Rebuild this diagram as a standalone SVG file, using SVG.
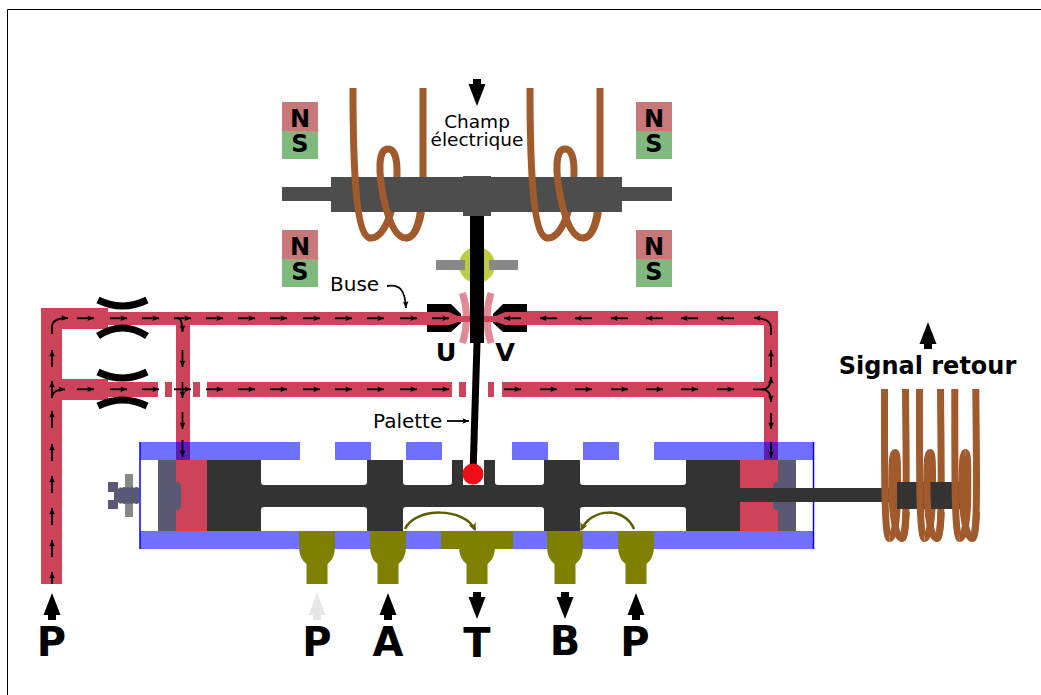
<svg xmlns="http://www.w3.org/2000/svg" width="1041" height="695" viewBox="0 0 1041 695">
<style>
text{font-family:"DejaVu Sans",sans-serif;fill:#000}
.b{font-weight:bold;text-anchor:middle}
.l{font-size:20px}
.m{font-size:18.5px;text-anchor:middle}
.mg{font-size:24px}
.big{font-size:40px}
.coil{fill:none;stroke:#a05a2c;stroke-width:7}
.pipe{fill:#cd445a}
.blue{fill:#7070ff}
.purple{fill:#5d1db3}
.olive{fill:#808000}
.dark{fill:#333}
.bar{fill:#4d4d4d}
.cap{fill:#595975}
.grey{fill:#888}
.ns{fill:#c87878}
.ss{fill:#80b97e}
.arc{fill:none;stroke:#000;stroke-width:7}
.pink{fill:none;stroke:#e08a98;stroke-width:7}
.f path{fill:none;stroke:#000;stroke-width:1.8;marker-end:url(#a)}
.o{fill:none;stroke:#5c5c00;stroke-width:2.5;marker-end:url(#o)}
</style>
<defs>
<marker id="a" markerUnits="userSpaceOnUse" markerWidth="8" markerHeight="7" refX="7" refY="3.5" orient="auto"><polygon points="0.5,0.7 7,3.5 0.5,6.3 1.5,3.5" fill="#000"/></marker>
<marker id="o" markerUnits="userSpaceOnUse" markerWidth="9" markerHeight="9" refX="7" refY="4" orient="auto"><polygon points="0,0 8,4 0,8 2,4" fill="#5c5c00"/></marker>
<polygon id="up" points="0,0 8.500,22 4,22 4,27 -4,27 -4,22 -8.500,22"/>
<polygon id="down" points="0,0 8.500,-22 4,-22 4,-27 -4,-27 -4,-22 -8.500,-22"/>
<path id="cb" class="coil" d="M371 238C383 238 392 216 396 190C398 170 398 149 388 149M406 238C414 238 420 226 423 190V88"/>
<path id="cf" class="coil" d="M353 88C353 170 356 238 371 238M388 149C378 149 378 172 384 200C389 222 396 238 406 238C414 238 419 226 421.500 212"/>
<path id="rb" class="coil" d="M889.500 538.500C894 538.500 897.500 520 897.500 490C897.500 470 898 452.500 895 452.500M902 538.500C908 538.500 906 460 905.500 389"/>
<path id="rf" class="coil" d="M884.500 389C884.500 470 884 538.500 889.500 538.500M895 452.500C891.500 452.500 892 470 892 490C892 515 896 538.500 902 538.500C904 538.500 905.500 530 906.300 512"/>
<path id="port" class="olive" d="M-18 0H18V16Q18 27 10.500 33V53H-10.500V33Q-18 27 -18 16Z"/>
</defs>

<path id="frame" d="M7.500 695V9.500H1041" fill="none" stroke="#000" stroke-width="1"/>

<g id="magnets">
<rect class="ns" x="282" y="102" width="36" height="29"/><rect class="ss" x="282" y="131" width="36" height="28"/>
<rect class="ns" x="636" y="102" width="36" height="29"/><rect class="ss" x="636" y="131" width="36" height="28"/>
<rect class="ns" x="282" y="230" width="36" height="29"/><rect class="ss" x="282" y="259" width="36" height="28"/>
<rect class="ns" x="636" y="230" width="36" height="29"/><rect class="ss" x="636" y="259" width="36" height="28"/>
<text class="b mg" x="300" y="127">N</text><text class="b mg" x="300" y="152">S</text>
<text class="b mg" x="654" y="127">N</text><text class="b mg" x="654" y="152">S</text>
<text class="b mg" x="300" y="255">N</text><text class="b mg" x="300" y="280">S</text>
<text class="b mg" x="654" y="255">N</text><text class="b mg" x="654" y="280">S</text>
</g>

<g id="pipes">
<rect class="pipe" x="41" y="308" width="21" height="276"/>
<rect class="pipe" x="41" y="308" width="67" height="21"/>
<rect class="pipe" x="62" y="379" width="46" height="21"/>
<rect class="pipe" x="108" y="312" width="342" height="13"/>
<rect class="pipe" x="108" y="382" width="50" height="15"/>
<rect class="pipe" x="165" y="382" width="7" height="15"/>
<rect class="pipe" x="193" y="382" width="7" height="15"/>
<rect class="pipe" x="207" y="382" width="245" height="15"/>
<rect class="pipe" x="459" y="382" width="7" height="15"/>
<rect class="pipe" x="488" y="382" width="6" height="15"/>
<rect class="pipe" x="502" y="382" width="276" height="15"/>
<rect class="pipe" x="504" y="311" width="274" height="14"/>
<rect class="pipe" x="176" y="312" width="14" height="148"/>
<rect class="pipe" x="764" y="311" width="14" height="149"/>
</g>

<g id="restrictions">
<path class="arc" d="M98 300Q122.500 312 147 300"/>
<path class="arc" d="M98 336Q122.500 320 147 336"/>
<path class="arc" d="M98 372Q122.500 384 147 372"/>
<path class="arc" d="M98 406Q122.500 394 147 406"/>
</g>

<g id="housing">
<rect class="blue" x="140" y="442" width="160" height="18"/>
<rect class="blue" x="335" y="442" width="36" height="18"/>
<rect class="blue" x="406" y="442" width="36" height="18"/>
<rect class="blue" x="512" y="442" width="36" height="18"/>
<rect class="blue" x="583" y="442" width="36" height="18"/>
<rect class="blue" x="654" y="442" width="160" height="18"/>
<rect class="blue" x="140" y="531" width="674" height="18"/>
<rect class="purple" x="176" y="442" width="14" height="18"/>
<rect class="purple" x="764" y="442" width="14" height="18"/>
<path d="M140 442V549M813.500 442V549" stroke="#00f" stroke-width="1.500" fill="none"/>
</g>

<g id="chambers">
<rect class="cap" x="158" y="460" width="18" height="71"/>
<rect class="pipe" x="176" y="460" width="31" height="71"/>
<path class="cap" d="M176 482H177Q181 482 181 487V505Q181 510 177 510H176Z"/>
<rect class="cap" x="778" y="460" width="18" height="71"/>
<rect class="pipe" x="740" y="460" width="38" height="71"/>
<path class="cap" d="M778 482H777Q773 482 773 487V505Q773 510 777 510H778Z"/>
</g>

<g id="spool">
<path class="dark" d="M207 460H261V482Q261 485 264 485H364Q367 485 367 482V460H403V482Q403 485 406 485H449Q452 485 452 482V460H463V485H484V460H495V482Q495 485 498 485H541Q544 485 544 482V460H580V482Q580 485 583 485H683Q686 485 686 482V460H740V531H686V510Q686 507 683 507H583Q580 507 580 510V531H544V510Q544 507 541 507H406Q403 507 403 510V531H367V510Q367 507 364 507H264Q261 507 261 510V531H207Z"/>
<rect class="dark" x="740" y="488" width="157" height="14"/>
</g>

<g id="bolt">
<rect class="grey" x="125" y="474" width="8" height="43"/>
<path class="cap" d="M108 482H118V489Q120 486 122 488Q124 486 126 488Q128 486 130 488Q132 486 134 488Q136 486 139 488V503Q136 505 134 503Q132 505 130 503Q128 505 126 503Q124 505 122 503Q120 505 118 502V509H108V500H114V492H108Z"/>
</g>

<g id="ports">
<rect class="olive" x="441" y="531" width="72" height="18"/>
<use href="#port" x="317" y="531"/>
<use href="#port" x="388" y="531"/>
<use href="#port" x="477" y="531"/>
<use href="#port" x="565" y="531"/>
<use href="#port" x="636" y="531"/>
</g>

<g id="torque-motor">
<use href="#cb"/><use href="#cb" x="177"/>
<rect class="bar" x="282" y="187" width="390" height="14"/>
<rect class="bar" x="331" y="177" width="291" height="35"/>
<rect class="bar" x="463" y="176" width="28" height="40"/>
<use href="#cf"/><use href="#cf" x="177"/>
</g>

<g id="flapper">
<circle cx="477" cy="265" r="18" fill="#bfcc40"/>
<rect class="grey" x="436" y="260" width="29" height="10"/>
<rect class="grey" x="489" y="260" width="29" height="10"/>
<path class="pink" d="M462.500 293Q470.500 318 462.500 343"/>
<path class="pink" d="M491 293Q483 318 491 343"/>
<path d="M427 304H451L461 314V323L451 332H427Z"/>
<path d="M527 304H503L493 314V323L503 332H527Z"/>
<path class="pipe" d="M427 312H449L458 316H470V322H458L449 325H427Z"/>
<path class="pipe" d="M527 312H505L496 316H484V322H496L505 325H527Z"/>
<rect x="470" y="216" width="14" height="127"/>
<path d="M477 343L473 474" stroke="#000" stroke-width="7" fill="none"/>
<circle cx="473" cy="474" r="10.500" fill="#f00d1a"/>
</g>

<g id="feedback-coil">
<use href="#rb"/><use href="#rb" x="35"/><use href="#rb" x="70.300"/>
<rect class="dark" x="897" y="482" width="64" height="27"/>
<use href="#rf"/><use href="#rf" x="35"/><use href="#rf" x="70.300"/>
</g>

<g id="connectors">
<g class="f">
<path d="M52 334V327Q52 318 68 318"/>
<path d="M77 318.300h17"/><path d="M110 318.300h17"/><path d="M142 318.300h17"/><path d="M174 318.300h17"/><path d="M206 318.300h17"/><path d="M238 318.300h17"/><path d="M270 318.300h17"/><path d="M303 318.300h17"/><path d="M335 318.300h17"/><path d="M367 318.300h17"/><path d="M400 318.300h17"/><path d="M432 318.300h17"/>
<path d="M77 389.300h17"/><path d="M110 389.300h17"/><path d="M142 389.300h17"/><path d="M174 389.300h17"/><path d="M206 389.300h17"/><path d="M238 389.300h17"/><path d="M270 389.300h17"/><path d="M303 389.300h17"/><path d="M335 389.300h17"/><path d="M367 389.300h17"/><path d="M400 389.300h17"/><path d="M432 389.300h17"/>
<path d="M504 389.300h17"/><path d="M540 389.300h17"/><path d="M575 389.300h17"/><path d="M611 389.300h17"/><path d="M646 389.300h17"/><path d="M681 389.300h17"/><path d="M717 389.300h17"/>
<path d="M521 318.300h-17"/><path d="M557 318.300h-17"/><path d="M592 318.300h-17"/><path d="M628 318.300h-17"/><path d="M663 318.300h-17"/><path d="M698 318.300h-17"/><path d="M734 318.300h-17"/>
<path d="M771 335V328Q771 318 754 318"/>
<path d="M771 367V350"/>
<path d="M753 389.300H762Q771 389.300 771 377"/>
<path d="M762 389.300Q771 389.300 771 402"/>
<path d="M771 413V429"/><path d="M771 442V458"/>
<path d="M177 318Q182.500 318 182.500 332"/>
<path d="M182.500 350V367"/><path d="M182.500 382V398"/><path d="M182.500 412V429"/><path d="M182.500 440V457"/>
<path d="M52 367V350"/><path d="M52 398V381"/><path d="M52 398Q52 389.300 65 389.300"/><path d="M52 428V411"/><path d="M52 461V444"/><path d="M52 493V476"/><path d="M52 525V508"/><path d="M52 557V540"/><path d="M52 584V572"/>
<path d="M387 286C400 284 405 290 406 308"/>
<path d="M447 421H469"/>
</g>
<path class="o" d="M405 529C415 507 465 507 475 530"/>
<path class="o" d="M634 529C625 507 592 507 581 530"/>
<use href="#down" x="477" y="106"/>
<use href="#up" x="928" y="322"/>
<use href="#up" x="52" y="593"/>
<use href="#up" x="317" y="593" fill="#e6e6e6"/>
<use href="#up" x="388" y="593"/>
<use href="#down" x="477" y="619"/>
<use href="#down" x="565" y="619"/>
<use href="#up" x="636" y="593"/>
</g>

<g id="labels">
<text class="m" x="477" y="128">Champ</text>
<text class="m" x="477" y="146">électrique</text>
<text class="l" x="330" y="291">Buse</text>
<text class="l" x="373" y="428">Palette</text>
<text class="b" font-size="25.500" x="446" y="361">U</text>
<text class="b" font-size="25.500" x="505" y="361">V</text>
<text class="b mg" x="927.500" y="374">Signal retour</text>
<text class="b big" x="51.500" y="655.500">P</text>
<text class="b big" x="317" y="655.500">P</text>
<text class="b big" x="388" y="656">A</text>
<text class="b big" x="477" y="657">T</text>
<text class="b big" x="565" y="655">B</text>
<text class="b big" x="635" y="655.500">P</text>
</g>
</svg>
